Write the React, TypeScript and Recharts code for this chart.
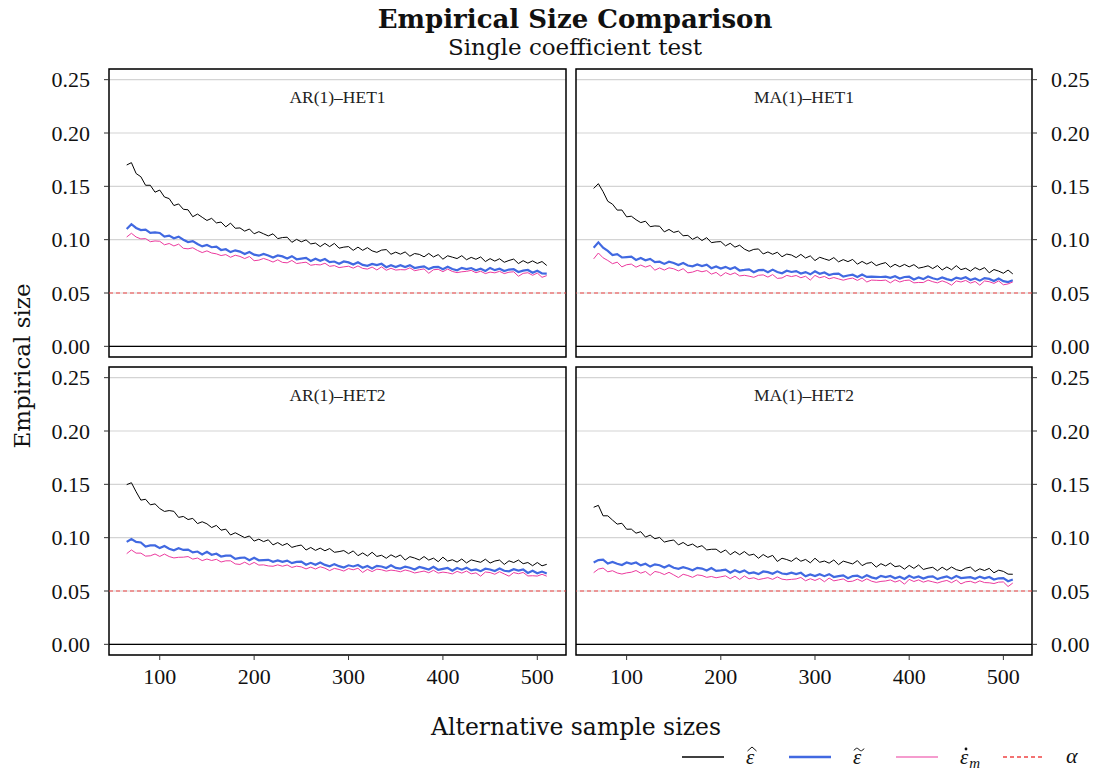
import React from 'react';
import {
  LineChart, Line, XAxis, YAxis, CartesianGrid, ReferenceLine, ReferenceArea,
} from 'recharts';

// alternative sample sizes (every 5th size)
const SAMPLE_SIZES = [
  65, 70, 75, 80, 85, 90, 95, 100, 105, 110,
  115, 120, 125, 130, 135, 140, 145, 150, 155, 160,
  165, 170, 175, 180, 185, 190, 195, 200, 205, 210,
  215, 220, 225, 230, 235, 240, 245, 250, 255, 260,
  265, 270, 275, 280, 285, 290, 295, 300, 305, 310,
  315, 320, 325, 330, 335, 340, 345, 350, 355, 360,
  365, 370, 375, 380, 385, 390, 395, 400, 405, 410,
  415, 420, 425, 430, 435, 440, 445, 450, 455, 460,
  465, 470, 475, 480, 485, 490, 495, 500, 505, 510,
];

const Y_TICKS = [0, 0.05, 0.1, 0.15, 0.2, 0.25];
const X_TICKS = [100, 200, 300, 400, 500];
const ALPHA = 0.05;

// AR(1)-HET1
const AR1_HET1_HAT = [
  0.1700, 0.1722, 0.1620, 0.1590, 0.1510, 0.1510, 0.1445, 0.1465, 0.1400, 0.1385,
  0.1320, 0.1335, 0.1285, 0.1280, 0.1215, 0.1240, 0.1210, 0.1180, 0.1200, 0.1157,
  0.1165, 0.1120, 0.1155, 0.1107, 0.1110, 0.1080, 0.1100, 0.1055, 0.1075, 0.1055,
  0.1035, 0.1055, 0.1010, 0.1020, 0.1023, 0.0975, 0.1003, 0.0980, 0.0998, 0.0960,
  0.0968, 0.0935, 0.0965, 0.0935, 0.0965, 0.0920, 0.0930, 0.0935, 0.0900, 0.0930,
  0.0900, 0.0925, 0.0895, 0.0881, 0.0902, 0.0907, 0.0863, 0.0883, 0.0864, 0.0885,
  0.0845, 0.0870, 0.0862, 0.0839, 0.0871, 0.0838, 0.0860, 0.0817, 0.0849, 0.0836,
  0.0823, 0.0850, 0.0812, 0.0834, 0.0816, 0.0838, 0.0795, 0.0822, 0.0799, 0.0821,
  0.0788, 0.0805, 0.0818, 0.0776, 0.0803, 0.0780, 0.0801, 0.0777, 0.0795, 0.0758,
];
const AR1_HET1_TILDE = [
  0.1100, 0.1145, 0.1110, 0.1090, 0.1095, 0.1063, 0.1068, 0.1063, 0.1028, 0.1038,
  0.1013, 0.1028, 0.1000, 0.0978, 0.0986, 0.0959, 0.0937, 0.0950, 0.0929, 0.0935,
  0.0903, 0.0910, 0.0883, 0.0900, 0.0888, 0.0865, 0.0884, 0.0860, 0.0850, 0.0866,
  0.0851, 0.0832, 0.0852, 0.0843, 0.0824, 0.0845, 0.0816, 0.0822, 0.0829, 0.0800,
  0.0821, 0.0802, 0.0818, 0.0789, 0.0795, 0.0775, 0.0796, 0.0787, 0.0767, 0.0788,
  0.0763, 0.0755, 0.0773, 0.0761, 0.0774, 0.0742, 0.0760, 0.0743, 0.0760, 0.0743,
  0.0761, 0.0734, 0.0742, 0.0750, 0.0724, 0.0742, 0.0745, 0.0723, 0.0746, 0.0725,
  0.0713, 0.0736, 0.0725, 0.0734, 0.0713, 0.0727, 0.0706, 0.0735, 0.0714, 0.0728,
  0.0706, 0.0720, 0.0723, 0.0697, 0.0710, 0.0716, 0.0690, 0.0709, 0.0683, 0.0682,
];
const AR1_HET1_DOT = [
  0.1025, 0.1060, 0.1025, 0.1007, 0.1010, 0.0981, 0.0988, 0.0985, 0.0952, 0.0964,
  0.0941, 0.0958, 0.0919, 0.0914, 0.0924, 0.0899, 0.0879, 0.0895, 0.0875, 0.0867,
  0.0851, 0.0860, 0.0835, 0.0854, 0.0843, 0.0823, 0.0842, 0.0803, 0.0808, 0.0824,
  0.0809, 0.0790, 0.0811, 0.0787, 0.0783, 0.0805, 0.0776, 0.0783, 0.0789, 0.0760,
  0.0767, 0.0763, 0.0779, 0.0750, 0.0757, 0.0738, 0.0745, 0.0751, 0.0733, 0.0754,
  0.0731, 0.0724, 0.0743, 0.0716, 0.0745, 0.0713, 0.0732, 0.0715, 0.0719, 0.0717,
  0.0736, 0.0709, 0.0718, 0.0726, 0.0685, 0.0718, 0.0722, 0.0700, 0.0724, 0.0702,
  0.0691, 0.0699, 0.0703, 0.0712, 0.0690, 0.0704, 0.0682, 0.0696, 0.0689, 0.0703,
  0.0682, 0.0695, 0.0699, 0.0657, 0.0684, 0.0690, 0.0666, 0.0687, 0.0647, 0.0663,
];

// MA(1)-HET1
const MA1_HET1_HAT = [
  0.1480, 0.1525, 0.1450, 0.1360, 0.1333, 0.1277, 0.1278, 0.1214, 0.1220, 0.1187,
  0.1160, 0.1173, 0.1122, 0.1129, 0.1126, 0.1073, 0.1096, 0.1068, 0.1080, 0.1037,
  0.1040, 0.1003, 0.1026, 0.0992, 0.1019, 0.0972, 0.0979, 0.0982, 0.0942, 0.0966,
  0.0930, 0.0948, 0.0912, 0.0891, 0.0909, 0.0913, 0.0866, 0.0885, 0.0863, 0.0882,
  0.0840, 0.0865, 0.0856, 0.0832, 0.0862, 0.0828, 0.0848, 0.0804, 0.0835, 0.0820,
  0.0806, 0.0832, 0.0792, 0.0813, 0.0794, 0.0815, 0.0770, 0.0796, 0.0771, 0.0792,
  0.0757, 0.0773, 0.0785, 0.0742, 0.0769, 0.0746, 0.0768, 0.0745, 0.0766, 0.0733,
  0.0742, 0.0755, 0.0729, 0.0757, 0.0716, 0.0744, 0.0718, 0.0756, 0.0719, 0.0732,
  0.0705, 0.0738, 0.0716, 0.0738, 0.0689, 0.0720, 0.0705, 0.0685, 0.0715, 0.0679,
];
const MA1_HET1_TILDE = [
  0.0925, 0.0975, 0.0925, 0.0895, 0.0855, 0.0864, 0.0833, 0.0837, 0.0841, 0.0810,
  0.0828, 0.0807, 0.0820, 0.0790, 0.0794, 0.0773, 0.0793, 0.0782, 0.0762, 0.0781,
  0.0758, 0.0750, 0.0767, 0.0753, 0.0765, 0.0732, 0.0749, 0.0729, 0.0745, 0.0725,
  0.0741, 0.0711, 0.0716, 0.0722, 0.0695, 0.0714, 0.0717, 0.0695, 0.0719, 0.0697,
  0.0685, 0.0709, 0.0697, 0.0705, 0.0683, 0.0696, 0.0675, 0.0703, 0.0680, 0.0692,
  0.0668, 0.0680, 0.0681, 0.0653, 0.0664, 0.0672, 0.0650, 0.0673, 0.0651, 0.0654,
  0.0652, 0.0650, 0.0654, 0.0643, 0.0657, 0.0636, 0.0650, 0.0653, 0.0627, 0.0646,
  0.0630, 0.0654, 0.0638, 0.0627, 0.0646, 0.0630, 0.0619, 0.0644, 0.0633, 0.0648,
  0.0622, 0.0637, 0.0616, 0.0640, 0.0632, 0.0613, 0.0635, 0.0611, 0.0603, 0.0620,
];
const MA1_HET1_DOT = [
  0.0820, 0.0875, 0.0830, 0.0805, 0.0775, 0.0789, 0.0745, 0.0765, 0.0771, 0.0742,
  0.0762, 0.0743, 0.0758, 0.0714, 0.0735, 0.0715, 0.0736, 0.0727, 0.0707, 0.0728,
  0.0689, 0.0696, 0.0712, 0.0699, 0.0710, 0.0677, 0.0693, 0.0659, 0.0691, 0.0672,
  0.0689, 0.0660, 0.0666, 0.0658, 0.0647, 0.0666, 0.0670, 0.0649, 0.0673, 0.0637,
  0.0641, 0.0665, 0.0654, 0.0664, 0.0643, 0.0657, 0.0621, 0.0665, 0.0643, 0.0655,
  0.0633, 0.0645, 0.0632, 0.0620, 0.0632, 0.0640, 0.0618, 0.0641, 0.0603, 0.0621,
  0.0619, 0.0617, 0.0621, 0.0595, 0.0624, 0.0603, 0.0617, 0.0621, 0.0595, 0.0599,
  0.0598, 0.0622, 0.0606, 0.0595, 0.0614, 0.0598, 0.0573, 0.0613, 0.0603, 0.0618,
  0.0593, 0.0608, 0.0573, 0.0613, 0.0606, 0.0590, 0.0613, 0.0577, 0.0585, 0.0604,
];

// AR(1)-HET2
const AR1_HET2_HAT = [
  0.1497, 0.1515, 0.1430, 0.1352, 0.1360, 0.1308, 0.1317, 0.1273, 0.1246, 0.1254,
  0.1247, 0.1190, 0.1199, 0.1170, 0.1181, 0.1132, 0.1149, 0.1130, 0.1095, 0.1115,
  0.1070, 0.1080, 0.1025, 0.1046, 0.1023, 0.1000, 0.1016, 0.0968, 0.0986, 0.0963,
  0.0980, 0.0932, 0.0954, 0.0927, 0.0946, 0.0909, 0.0922, 0.0931, 0.0884, 0.0908,
  0.0881, 0.0902, 0.0877, 0.0898, 0.0863, 0.0869, 0.0879, 0.0850, 0.0876, 0.0831,
  0.0857, 0.0828, 0.0863, 0.0824, 0.0835, 0.0807, 0.0839, 0.0816, 0.0838, 0.0790,
  0.0822, 0.0809, 0.0791, 0.0823, 0.0790, 0.0808, 0.0775, 0.0817, 0.0780, 0.0793,
  0.0771, 0.0800, 0.0763, 0.0792, 0.0780, 0.0769, 0.0798, 0.0762, 0.0781, 0.0790,
  0.0749, 0.0783, 0.0767, 0.0790, 0.0756, 0.0767, 0.0737, 0.0767, 0.0736, 0.0750,
];
const AR1_HET2_TILDE = [
  0.0960, 0.0988, 0.0960, 0.0955, 0.0917, 0.0927, 0.0927, 0.0902, 0.0922, 0.0896,
  0.0881, 0.0901, 0.0885, 0.0888, 0.0862, 0.0870, 0.0843, 0.0867, 0.0840, 0.0849,
  0.0823, 0.0832, 0.0832, 0.0801, 0.0810, 0.0814, 0.0789, 0.0811, 0.0788, 0.0790,
  0.0792, 0.0774, 0.0786, 0.0773, 0.0785, 0.0761, 0.0773, 0.0775, 0.0747, 0.0764,
  0.0746, 0.0767, 0.0745, 0.0732, 0.0752, 0.0733, 0.0720, 0.0741, 0.0730, 0.0744,
  0.0718, 0.0734, 0.0711, 0.0736, 0.0730, 0.0716, 0.0741, 0.0717, 0.0710, 0.0729,
  0.0718, 0.0701, 0.0725, 0.0714, 0.0702, 0.0726, 0.0699, 0.0708, 0.0716, 0.0690,
  0.0715, 0.0700, 0.0719, 0.0693, 0.0702, 0.0686, 0.0709, 0.0702, 0.0687, 0.0711,
  0.0690, 0.0685, 0.0704, 0.0692, 0.0703, 0.0669, 0.0689, 0.0666, 0.0682, 0.0663,
];
const AR1_HET2_DOT = [
  0.0850, 0.0885, 0.0855, 0.0855, 0.0827, 0.0830, 0.0847, 0.0824, 0.0846, 0.0823,
  0.0810, 0.0816, 0.0817, 0.0823, 0.0799, 0.0809, 0.0785, 0.0800, 0.0786, 0.0797,
  0.0772, 0.0783, 0.0783, 0.0754, 0.0749, 0.0770, 0.0746, 0.0768, 0.0743, 0.0745,
  0.0735, 0.0732, 0.0745, 0.0732, 0.0744, 0.0721, 0.0733, 0.0726, 0.0707, 0.0724,
  0.0706, 0.0727, 0.0714, 0.0691, 0.0712, 0.0702, 0.0687, 0.0710, 0.0699, 0.0713,
  0.0674, 0.0703, 0.0682, 0.0705, 0.0699, 0.0686, 0.0696, 0.0690, 0.0680, 0.0697,
  0.0686, 0.0669, 0.0678, 0.0687, 0.0671, 0.0694, 0.0668, 0.0677, 0.0671, 0.0660,
  0.0684, 0.0668, 0.0687, 0.0661, 0.0670, 0.0639, 0.0678, 0.0673, 0.0657, 0.0681,
  0.0660, 0.0639, 0.0673, 0.0662, 0.0674, 0.0641, 0.0643, 0.0640, 0.0657, 0.0639,
];

// MA(1)-HET2
const MA1_HET2_HAT = [
  0.1285, 0.1303, 0.1205, 0.1205, 0.1165, 0.1127, 0.1135, 0.1079, 0.1080, 0.1042,
  0.1056, 0.1005, 0.1024, 0.0990, 0.1002, 0.0959, 0.0970, 0.0978, 0.0932, 0.0955,
  0.0925, 0.0940, 0.0910, 0.0925, 0.0885, 0.0891, 0.0892, 0.0860, 0.0885, 0.0840,
  0.0870, 0.0840, 0.0870, 0.0835, 0.0845, 0.0807, 0.0842, 0.0815, 0.0834, 0.0777,
  0.0807, 0.0795, 0.0778, 0.0811, 0.0779, 0.0796, 0.0764, 0.0807, 0.0769, 0.0781,
  0.0761, 0.0791, 0.0747, 0.0780, 0.0767, 0.0754, 0.0785, 0.0738, 0.0761, 0.0766,
  0.0724, 0.0756, 0.0735, 0.0762, 0.0728, 0.0736, 0.0705, 0.0740, 0.0712, 0.0744,
  0.0702, 0.0714, 0.0722, 0.0690, 0.0723, 0.0695, 0.0725, 0.0700, 0.0689, 0.0714,
  0.0724, 0.0683, 0.0708, 0.0692, 0.0712, 0.0671, 0.0695, 0.0684, 0.0658, 0.0657,
];
const MA1_HET2_TILDE = [
  0.0768, 0.0790, 0.0795, 0.0758, 0.0772, 0.0755, 0.0744, 0.0767, 0.0755, 0.0767,
  0.0740, 0.0755, 0.0729, 0.0750, 0.0741, 0.0721, 0.0742, 0.0718, 0.0708, 0.0723,
  0.0711, 0.0694, 0.0717, 0.0710, 0.0692, 0.0715, 0.0688, 0.0694, 0.0701, 0.0672,
  0.0694, 0.0676, 0.0693, 0.0665, 0.0674, 0.0658, 0.0683, 0.0677, 0.0661, 0.0684,
  0.0664, 0.0659, 0.0672, 0.0659, 0.0671, 0.0638, 0.0655, 0.0640, 0.0658, 0.0639,
  0.0658, 0.0631, 0.0639, 0.0647, 0.0620, 0.0640, 0.0644, 0.0623, 0.0648, 0.0628,
  0.0617, 0.0642, 0.0631, 0.0641, 0.0619, 0.0634, 0.0613, 0.0643, 0.0623, 0.0637,
  0.0617, 0.0632, 0.0637, 0.0611, 0.0626, 0.0636, 0.0616, 0.0641, 0.0621, 0.0626,
  0.0630, 0.0615, 0.0635, 0.0619, 0.0631, 0.0608, 0.0619, 0.0620, 0.0591, 0.0607,
];
const MA1_HET2_DOT = [
  0.0672, 0.0705, 0.0715, 0.0680, 0.0690, 0.0669, 0.0659, 0.0670, 0.0676, 0.0692,
  0.0667, 0.0683, 0.0647, 0.0683, 0.0674, 0.0654, 0.0675, 0.0651, 0.0626, 0.0657,
  0.0645, 0.0628, 0.0651, 0.0645, 0.0628, 0.0636, 0.0624, 0.0633, 0.0642, 0.0615,
  0.0639, 0.0608, 0.0641, 0.0615, 0.0624, 0.0607, 0.0616, 0.0625, 0.0609, 0.0632,
  0.0611, 0.0605, 0.0609, 0.0613, 0.0627, 0.0596, 0.0615, 0.0599, 0.0618, 0.0587,
  0.0621, 0.0595, 0.0604, 0.0613, 0.0588, 0.0592, 0.0611, 0.0590, 0.0614, 0.0592,
  0.0581, 0.0590, 0.0594, 0.0604, 0.0584, 0.0599, 0.0564, 0.0609, 0.0589, 0.0604,
  0.0583, 0.0597, 0.0586, 0.0575, 0.0589, 0.0599, 0.0578, 0.0603, 0.0567, 0.0586,
  0.0591, 0.0575, 0.0595, 0.0579, 0.0577, 0.0570, 0.0583, 0.0585, 0.0542, 0.0575,
];

const X_DOMAIN: [number, number] = [46.25, 530.4];
const Y_DOMAIN: [number, number] = [-0.01, 0.26];

const COLORS = {
  hat: '#000000',
  tilde: '#4169E1',
  dot: '#EC3A9E',
  dotKey: '#F27BBE',
  alpha: '#EF4444',
  grid: '#d4d4d4',
};

const SERIF = '"Liberation Serif", "Times New Roman", serif';
const TEXT_SERIF = '"DejaVu Serif", "Liberation Serif", serif';

const AXIS_W = 90;
const PAD = 10;
const X_AXIS_H = 45;

interface PanelProps {
  title: string;
  hat: number[];
  tilde: number[];
  dot: number[];
  x: number;
  y: number;
  w: number;
  h: number;
  side: 'left' | 'right';
  showX: boolean;
}

function Panel({ title, hat, tilde, dot, x, y, w, h, side, showX }: PanelProps) {
  const rows = SAMPLE_SIZES.map((n, i) => ({ n, hat: hat[i], tilde: tilde[i], dot: dot[i] }));
  const tickStyle = { fill: '#111', fontSize: 22, fontFamily: SERIF };

  return (
    <div style={{ position: 'absolute', left: x - AXIS_W, top: y - PAD }}>
      <LineChart
        width={w + AXIS_W * 2}
        height={h + PAD + (showX ? X_AXIS_H : PAD)}
        data={rows}
        margin={{
          top: PAD,
          bottom: showX ? 0 : PAD,
          left: side === 'left' ? 0 : AXIS_W,
          right: side === 'right' ? 0 : AXIS_W,
        }}
      >
        <CartesianGrid vertical={false} stroke={COLORS.grid} strokeWidth={1.2} />
        <XAxis
          dataKey="n"
          type="number"
          domain={X_DOMAIN}
          ticks={X_TICKS}
          allowDataOverflow
          hide={!showX}
          height={X_AXIS_H}
          axisLine={false}
          tickLine={{ stroke: '#333' }}
          tickSize={5}
          tickMargin={8}
          tick={tickStyle}
        />
        <YAxis
          orientation={side}
          width={AXIS_W}
          type="number"
          domain={Y_DOMAIN}
          ticks={Y_TICKS}
          allowDataOverflow
          axisLine={false}
          tickLine={{ stroke: '#333' }}
          tickSize={5}
          tickMargin={14}
          tickFormatter={(v: number) => v.toFixed(2)}
          tick={tickStyle}
        />
        <ReferenceLine y={0} stroke="#000" strokeWidth={1.2} />
        <ReferenceLine y={ALPHA} stroke={COLORS.alpha} strokeDasharray="4 3" strokeWidth={1.2} />
        <Line type="linear" dataKey="hat" stroke={COLORS.hat} strokeWidth={1} dot={false} isAnimationActive={false} />
        <Line type="linear" dataKey="tilde" stroke={COLORS.tilde} strokeWidth={2.2} dot={false} isAnimationActive={false} />
        <Line type="linear" dataKey="dot" stroke={COLORS.dot} strokeWidth={1} dot={false} isAnimationActive={false} />
        <ReferenceArea
          x1={X_DOMAIN[0]} x2={X_DOMAIN[1]} y1={Y_DOMAIN[0]} y2={Y_DOMAIN[1]}
          fill="none" stroke="#000" strokeWidth={1.5} ifOverflow="visible"
        />
      </LineChart>
      <div style={{
        position: 'absolute', left: AXIS_W + w / 2, top: PAD + 28,
        transform: 'translate(-50%, -50%)', whiteSpace: 'nowrap',
        fontFamily: SERIF, fontSize: 17.5, color: '#222',
      }}>
        {title}
      </div>
    </div>
  );
}

// accent drawn above the epsilon in the legend keys
function Accent({ kind, cx }: { kind: 'hat' | 'tilde' | 'dot'; cx: number }) {
  if (kind === 'hat') {
    return <polyline points={`${cx - 4.5},9 ${cx},5 ${cx + 4.5},9`} fill="none" stroke="#111" strokeWidth={1} />;
  }
  if (kind === 'tilde') {
    return <path d={`M${cx - 5},8.5 q2.5,-4 5,-1 t5,-1`} fill="none" stroke="#111" strokeWidth={1} />;
  }
  return <circle cx={cx} cy={7} r={1.4} fill="#111" />;
}

function LegendKey() {
  const items = [
    { x: 682, color: COLORS.hat, dash: undefined, w: 1.3, accent: 'hat' as const, sub: '' },
    { x: 789, color: COLORS.tilde, dash: undefined, w: 2.4, accent: 'tilde' as const, sub: '' },
    { x: 896, color: COLORS.dotKey, dash: undefined, w: 1.5, accent: 'dot' as const, sub: 'm' },
  ];
  return (
    <svg width={1100} height={30} style={{ position: 'absolute', left: 0, top: 742 }}>
      {items.map((it, i) => (
        <g key={i}>
          <line x1={it.x} x2={it.x + 42} y1={15} y2={15} stroke={it.color} strokeWidth={it.w} strokeDasharray={it.dash} />
          <text x={it.x + 64} y={22} fontFamily={SERIF} fontStyle="italic" fontSize={21} fill="#111">
            ε
            {it.sub && <tspan fontSize={15} dx={1} dy={4}>{it.sub}</tspan>}
          </text>
          <Accent kind={it.accent} cx={it.x + 70} />
        </g>
      ))}
      <line x1={1003} x2={1045} y1={15} y2={15} stroke={COLORS.alpha} strokeWidth={1.3} strokeDasharray="4 3" />
      <text x={1066} y={21} fontFamily={SERIF} fontStyle="italic" fontSize={22} fill="#111">α</text>
    </svg>
  );
}

export default function App() {
  return (
    <div style={{
      position: 'absolute', left: 0, top: 0, width: 1100, height: 772,
      background: '#fff', overflow: 'hidden',
    }}>
      <div style={{
        position: 'absolute', left: 575, top: 19, transform: 'translate(-50%, -50%)',
        fontFamily: TEXT_SERIF, fontWeight: 700, fontSize: 26, whiteSpace: 'nowrap', color: '#111',
      }}>
        Empirical Size Comparison
      </div>
      <div style={{
        position: 'absolute', left: 575, top: 47, transform: 'translate(-50%, -50%)',
        fontFamily: TEXT_SERIF, fontSize: 23, whiteSpace: 'nowrap', color: '#111',
      }}>
        Single coefficient test
      </div>

      <Panel title="AR(1)–HET1" hat={AR1_HET1_HAT} tilde={AR1_HET1_TILDE} dot={AR1_HET1_DOT}
        x={109} y={69} w={457} h={288} side="left" showX={false} />
      <Panel title="MA(1)–HET1" hat={MA1_HET1_HAT} tilde={MA1_HET1_TILDE} dot={MA1_HET1_DOT}
        x={576} y={69} w={456} h={288} side="right" showX={false} />
      <Panel title="AR(1)–HET2" hat={AR1_HET2_HAT} tilde={AR1_HET2_TILDE} dot={AR1_HET2_DOT}
        x={109} y={367} w={457} h={288} side="left" showX />
      <Panel title="MA(1)–HET2" hat={MA1_HET2_HAT} tilde={MA1_HET2_TILDE} dot={MA1_HET2_DOT}
        x={576} y={367} w={456} h={288} side="right" showX />

      <div style={{
        position: 'absolute', left: 22, top: 366, transform: 'translate(-50%, -50%) rotate(-90deg)',
        fontFamily: TEXT_SERIF, fontSize: 23, whiteSpace: 'nowrap', color: '#111',
      }}>
        Empirical size
      </div>
      <div style={{
        position: 'absolute', left: 576, top: 727, transform: 'translate(-50%, -50%)',
        fontFamily: TEXT_SERIF, fontSize: 23.5, whiteSpace: 'nowrap', color: '#111',
      }}>
        Alternative sample sizes
      </div>

      <LegendKey />
    </div>
  );
}
